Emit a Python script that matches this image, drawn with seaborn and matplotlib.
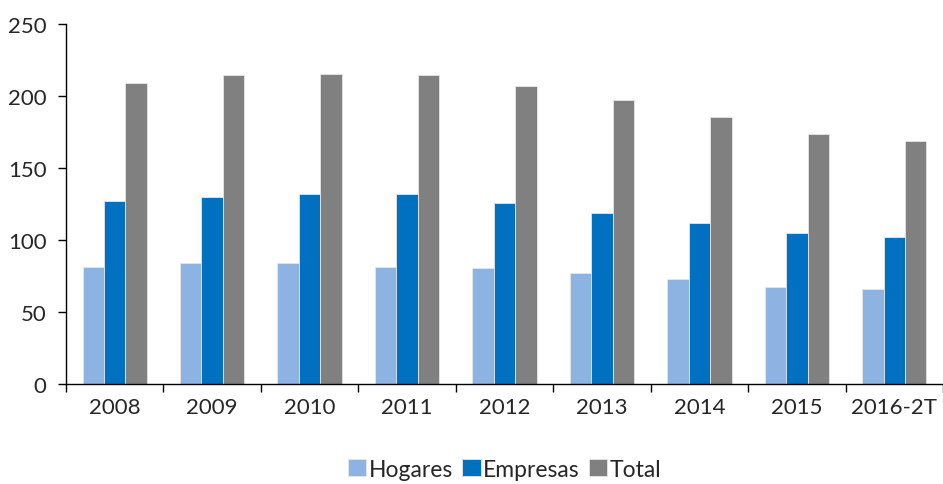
import pandas as pd
import numpy as np
import seaborn as sns
import matplotlib.pyplot as plt
from matplotlib.ticker import FixedLocator

years = ['2008', '2009', '2010', '2011', '2012', '2013', '2014', '2015', '2016-2T']
hogares = [81.5, 83.8, 83.8, 81.5, 80.3, 77.1, 72.9, 67.4, 66.2]
empresas = [126.9, 130.3, 132.4, 132.4, 125.9, 119.2, 111.8, 105.3, 102.1]
total = [209.0, 214.6, 215.7, 214.6, 206.9, 197.2, 185.2, 173.4, 169.2]
series = ['Hogares', 'Empresas', 'Total']
colors = ['#8DB3E2', '#0070C0', '#808080']

df = pd.DataFrame({'year': years * 3,
                   'serie': np.repeat(series, len(years)),
                   'valor': hogares + empresas + total})

sns.set_style('white')
plt.rcParams['font.family'] = ['Lato', 'DejaVu Sans']

fig = plt.figure(figsize=(9.43, 4.85), dpi=100)
ax = fig.add_axes([0.07, 0.206, 0.93, 0.742])
sns.barplot(data=df, x='year', y='valor', hue='serie', palette=colors, saturation=1,
            width=0.66, edgecolor='#e6e6e6', linewidth=0.6, ax=ax)

ax.set_xlim(-0.5, len(years) - 0.5)
ax.set_ylim(0, 250)
ax.set_yticks([0, 50, 100, 150, 200, 250])
ax.set_xlabel('')
ax.set_ylabel('')
for s in ['top', 'right']:
    ax.spines[s].set_visible(False)
for s in ['left', 'bottom']:
    ax.spines[s].set_color('black')
    ax.spines[s].set_linewidth(1.0)

ax.tick_params(axis='x', which='major', length=0, labelsize=16, pad=9)
ax.xaxis.set_minor_locator(FixedLocator(np.arange(-0.5, len(years), 1.0)))
ax.tick_params(axis='x', which='minor', length=6, width=1, color='black', direction='out')
ax.tick_params(axis='y', length=6, width=1, color='black', direction='out', labelsize=16, pad=8)
ax.tick_params(bottom=True, left=True, which='both')

ax.legend(loc='upper center', bbox_to_anchor=(0.5, -0.15), ncol=3, frameon=False,
          fontsize=16.5, handlelength=0.8, handleheight=0.8, handletextpad=0.1,
          columnspacing=0.4)

fig.savefig('out.png', dpi=100)
